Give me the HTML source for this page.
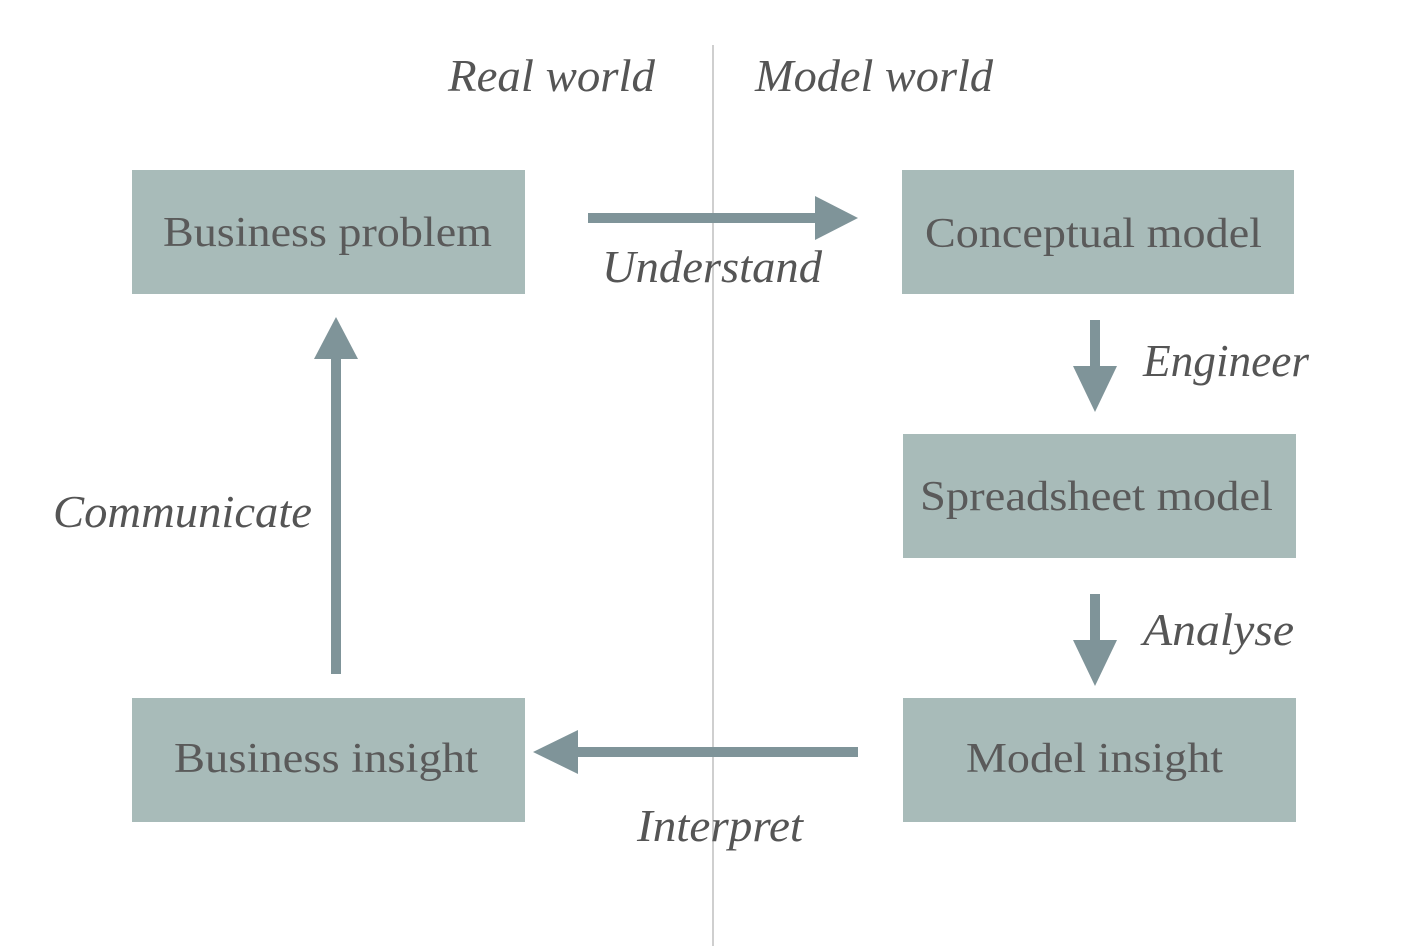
<!DOCTYPE html>
<html><head><meta charset="utf-8"><style>
html,body{margin:0;padding:0;background:#fff;}
svg{display:block;}
.b{font-family:"Liberation Serif",serif;font-size:42px;fill:#5a5a5a;}
.i{font-family:"Liberation Serif",serif;font-style:italic;font-size:46px;fill:#555;}
</style></head><body>
<svg width="1404" height="946" viewBox="0 0 1404 946" xmlns="http://www.w3.org/2000/svg">
<line x1="713" y1="45" x2="713" y2="946" stroke="#cfcfcf" stroke-width="2"/>
<text class="i" x="448" y="91" textLength="207" lengthAdjust="spacingAndGlyphs">Real world</text>
<text class="i" x="755" y="91" textLength="238" lengthAdjust="spacingAndGlyphs">Model world</text>
<g fill="#a8bbb9">
<rect x="132" y="170" width="393" height="124"/>
<rect x="902" y="170" width="392" height="124"/>
<rect x="903" y="434" width="393" height="124"/>
<rect x="132" y="698" width="393" height="124"/>
<rect x="903" y="698" width="393" height="124"/>
</g>
<g class="b" lengthAdjust="spacingAndGlyphs">
<text x="163" y="246" textLength="329" lengthAdjust="spacingAndGlyphs">Business problem</text>
<text x="925" y="247" textLength="337" lengthAdjust="spacingAndGlyphs">Conceptual model</text>
<text x="920" y="510" textLength="353" lengthAdjust="spacingAndGlyphs">Spreadsheet model</text>
<text x="174" y="772" textLength="304" lengthAdjust="spacingAndGlyphs">Business insight</text>
<text x="966" y="772" textLength="257" lengthAdjust="spacingAndGlyphs">Model insight</text>
</g>
<g fill="#7f9499">
<rect x="588" y="213" width="230" height="10"/>
<polygon points="815,196 858,218 815,240"/>
<rect x="1090" y="320" width="10" height="48"/>
<polygon points="1073,366 1117,366 1095,412"/>
<rect x="1090" y="594" width="10" height="48"/>
<polygon points="1073,640 1117,640 1095,686"/>
<rect x="331" y="356" width="10" height="318"/>
<polygon points="314,359 358,359 336,317"/>
<rect x="575" y="747" width="283" height="10"/>
<polygon points="578,730 578,774 533,752"/>
</g>
<text class="i" x="602" y="282" textLength="220" lengthAdjust="spacingAndGlyphs">Understand</text>
<text class="i" x="1143" y="376" textLength="166" lengthAdjust="spacingAndGlyphs">Engineer</text>
<text class="i" x="1143" y="645" textLength="151" lengthAdjust="spacingAndGlyphs">Analyse</text>
<text class="i" x="53" y="527" textLength="259" lengthAdjust="spacingAndGlyphs">Communicate</text>
<text class="i" x="637" y="841" textLength="166" lengthAdjust="spacingAndGlyphs">Interpret</text>
</svg>
</body></html>
